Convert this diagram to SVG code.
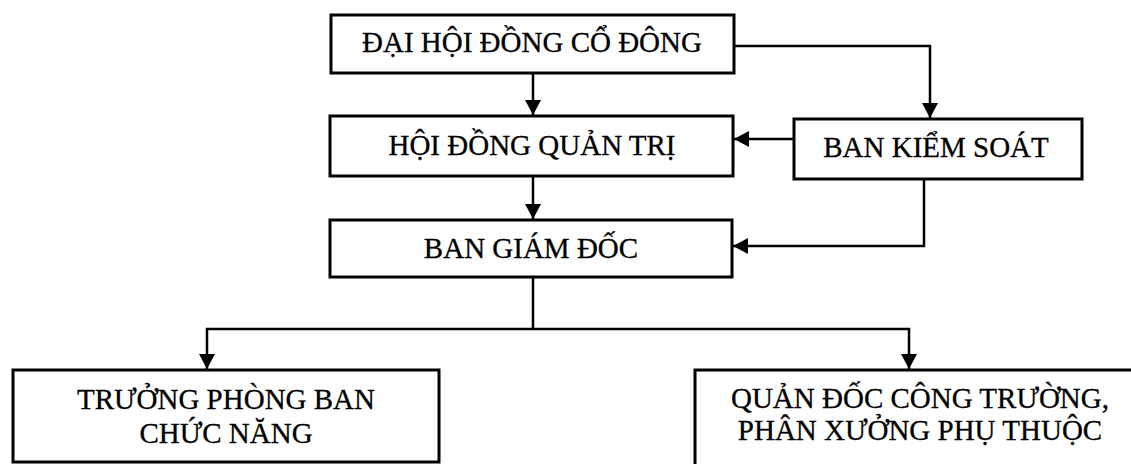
<svg xmlns="http://www.w3.org/2000/svg" width="1131" height="464" viewBox="0 0 1131 464">
<style>
.box{fill:#fff;stroke:#000;stroke-width:3}
.lbl{font-family:"Liberation Serif","Times New Roman",serif;font-size:29px;fill:#000;text-anchor:middle;stroke:#000;stroke-width:0.3}
.con{fill:none;stroke:#000;stroke-width:2.5}
</style>
<defs>
<marker id="arr" markerUnits="userSpaceOnUse" markerWidth="15" markerHeight="16" refX="15" refY="8" orient="auto">
<path d="M0,0 L15,8 L0,16 z" fill="#000"/>
</marker>
</defs>
<rect width="1131" height="464" fill="#fff"/>
<g id="connectors">
<path class="con" d="M533,73 V115" marker-end="url(#arr)"/>
<path class="con" d="M734,46 H930 V118" marker-end="url(#arr)"/>
<path class="con" d="M794,139 H734" marker-end="url(#arr)"/>
<path class="con" d="M924,179 V246 H733" marker-end="url(#arr)"/>
<path class="con" d="M533,176 V219" marker-end="url(#arr)"/>
<path class="con" d="M533,277 V329"/>
<path class="con" d="M533,329 H207 V369" marker-end="url(#arr)"/>
<path class="con" d="M533,329 H909 V369" marker-end="url(#arr)"/>
</g>
<g id="dai-hoi-dong-co-dong">
<rect class="box" x="331" y="15" width="403" height="58"/>
<text class="lbl" x="532" y="52">ĐẠI HỘI ĐỒNG CỔ ĐÔNG</text>
</g>
<g id="hoi-dong-quan-tri">
<rect class="box" x="330" y="116" width="403" height="60"/>
<text class="lbl" x="532" y="155">HỘI ĐỒNG QUẢN TRỊ</text>
</g>
<g id="ban-kiem-soat">
<rect class="box" x="794" y="119" width="288" height="60"/>
<text class="lbl" x="936" y="157">BAN KIỂM SOÁT</text>
</g>
<g id="ban-giam-doc">
<rect class="box" x="330" y="220" width="402" height="57"/>
<text class="lbl" x="531" y="258">BAN GIÁM ĐỐC</text>
</g>
<g id="truong-phong-ban">
<rect class="box" x="13" y="370" width="426" height="92"/>
<text class="lbl" x="226" y="409">TRƯỞNG PHÒNG BAN</text>
<text class="lbl" x="226" y="443">CHỨC NĂNG</text>
</g>
<g id="quan-doc">
<rect class="box" x="695" y="370" width="460" height="110"/>
<text class="lbl" x="920" y="408">QUẢN ĐỐC CÔNG TRƯỜNG,</text>
<text class="lbl" x="920" y="440">PHÂN XƯỞNG PHỤ THUỘC</text>
</g>
</svg>
